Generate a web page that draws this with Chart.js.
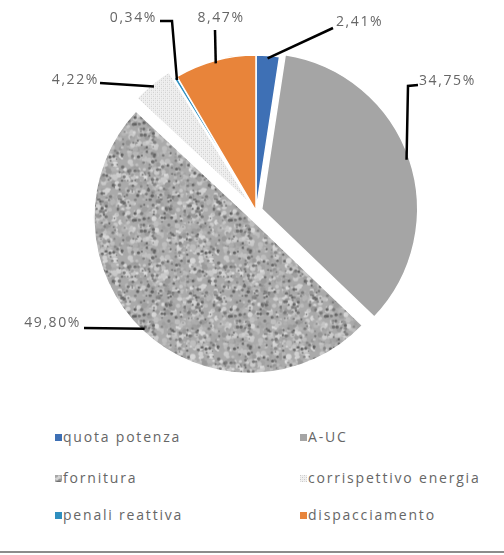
<!DOCTYPE html>
<html>
<head>
<meta charset="utf-8">
<script src="https://cdn.jsdelivr.net/npm/chart.js@4.4.1/dist/chart.umd.min.js"></script>
<style>
  html, body { margin: 0; padding: 0; background: #fff; }
  #wrap { position: relative; width: 504px; height: 555px; overflow: hidden; }
  #chartBox { position: absolute; left: 0; top: 0; width: 504px; height: 420px; }
  .legend-item {
    position: absolute; height: 16px; line-height: 16px; white-space: nowrap;
    font-family: "Open Sans", sans-serif; font-size: 14px; color: #666; letter-spacing: 1.8px;
  }
  .swatch { display: inline-block; width: 7px; height: 7px; margin-right: 1px; vertical-align: 1px; }
  #frame { position: absolute; left: 0; right: 0; top: 551px; height: 2px; background: #8c8c8c; }
</style>
</head>
<body>
<div id="wrap">
  <div id="chartBox"><canvas id="chart"></canvas></div>
  <div id="legend"></div>
  <div id="frame"></div>
</div>
<script>
const categories = ["quota potenza", "A-UC", "fornitura", "corrispettivo energia", "penali reattiva", "dispacciamento"];
const shares = [2.41, 34.75, 49.80, 4.22, 0.34, 8.47];

// how far each slice is pulled out of the pie (px)
const explode = [0, 6, 9, 8, 0, 0];

// label text position + leader line bends
const labelSpots = [
  { at: [336, 22], align: "left", path: [[333, 28]] },
  { at: [419, 81], align: "left", path: [[408, 86], [418, 85]] },
  { at: [81, 323], align: "right", path: [[84, 328]] },
  { at: [99, 80], align: "right", path: [[100, 83]] },
  { at: [157, 18], align: "right", path: [[172, 21], [160, 21]] },
  { at: [221, 18], align: "center", path: [[215, 30]] },
];

// deterministic texture helpers
function rng(seed) {
  let a = seed;
  return function () {
    a |= 0; a = a + 0x6D2B79F5 | 0;
    let t = Math.imul(a ^ a >>> 15, 1 | a);
    t = t + Math.imul(t ^ t >>> 7, 61 | t) ^ t;
    return ((t ^ t >>> 14) >>> 0) / 4294967296;
  };
}

function grainTile() {
  const c = document.createElement("canvas");
  c.width = c.height = 96;
  const g = c.getContext("2d");
  g.fillStyle = "#aaaaaa";
  g.fillRect(0, 0, 96, 96);
  const r = rng(7);
  for (let i = 0; i < 700; i++) {
    const v = Math.round(150 + r() * 70);
    g.fillStyle = `rgb(${v},${v},${v})`;
    g.beginPath();
    g.arc(r() * 96, r() * 96, 1.2 + r() * 1.8, 0, Math.PI * 2);
    g.fill();
  }
  for (let i = 0; i < 260; i++) {
    const v = Math.round(95 + r() * 40);
    g.fillStyle = `rgb(${v},${v},${v})`;
    g.beginPath();
    g.arc(r() * 96, r() * 96, 0.7 + r() * 1.1, 0, Math.PI * 2);
    g.fill();
  }
  return c;
}

function dotTile() {
  const c = document.createElement("canvas");
  c.width = c.height = 4;
  const g = c.getContext("2d");
  g.fillStyle = "#f1f1f1";
  g.fillRect(0, 0, 4, 4);
  g.fillStyle = "#c9c9c9";
  g.fillRect(0, 0, 1, 1);
  g.fillRect(2, 2, 1, 1);
  g.fillStyle = "#dedede";
  g.fillRect(2, 0, 1, 1);
  g.fillRect(0, 2, 1, 1);
  return c;
}

const canvas = document.getElementById("chart");
const ctx = canvas.getContext("2d");
const grain = grainTile();
const dots = dotTile();

const sliceColors = [
  "#3e70b5",
  "#a5a5a5",
  ctx.createPattern(grain, "repeat"),
  ctx.createPattern(dots, "repeat"),
  "#2f8fbf",
  "#e8843a",
];
const swatchCss = [
  "background:#3e70b5",
  "background:#a5a5a5",
  `background:url(${grain.toDataURL()})`,
  `background:url(${dots.toDataURL()})`,
  "background:#2f8fbf",
  "background:#e8843a",
];

const fmt = v => v.toFixed(2).replace(".", ",") + "%";

// draw the slices ourselves so they can be pulled out by a fixed distance
const explodedSlices = {
  id: "explodedSlices",
  beforeDatasetDraw(chart, args) {
    const c = chart.ctx;
    args.meta.data.forEach((arc, i) => {
      const mid = (arc.startAngle + arc.endAngle) / 2;
      c.save();
      c.translate(Math.cos(mid) * explode[i], Math.sin(mid) * explode[i]);
      arc.draw(c, chart.chartArea);
      c.restore();
    });
    return false;
  },
};

const leaderLabels = {
  id: "leaderLabels",
  afterDatasetsDraw(chart) {
    const c = chart.ctx;
    const arcs = chart.getDatasetMeta(0).data;
    c.save();
    c.strokeStyle = "#000";
    c.lineWidth = 2.5;
    c.font = "14px 'Open Sans', sans-serif";
    c.fillStyle = "#666";
    c.textBaseline = "middle";
    c.letterSpacing = "1.6px";
    arcs.forEach((arc, i) => {
      const spot = labelSpots[i];
      const mid = (arc.startAngle + arc.endAngle) / 2;
      const r = arc.outerRadius - 3 + explode[i];
      c.beginPath();
      c.moveTo(arc.x + Math.cos(mid) * r, arc.y + Math.sin(mid) * r);
      spot.path.forEach(p => c.lineTo(p[0], p[1]));
      c.stroke();
      c.textAlign = spot.align;
      c.fillText(fmt(shares[i]), spot.at[0], spot.at[1]);
    });
    c.restore();
  },
};

const chart = new Chart(canvas, {
  type: "pie",
  data: {
    labels: categories,
    datasets: [{
      data: shares,
      backgroundColor: sliceColors,
      borderColor: "#ffffff",
      borderWidth: 1.5,
      radius: 156,
    }],
  },
  options: {
    responsive: true,
    maintainAspectRatio: false,
    animation: false,
    layout: { padding: { left: 8, top: 2, right: 0, bottom: 0 } },
    plugins: {
      legend: { display: false },
      tooltip: { enabled: false },
    },
  },
  plugins: [explodedSlices, leaderLabels],
});

// two-column legend under the pie
const legendCols = [55, 300];
const legendRows = [437, 478, 515];
const legend = document.getElementById("legend");
categories.forEach((name, i) => {
  const el = document.createElement("div");
  el.className = "legend-item";
  el.style.left = legendCols[i % 2] + "px";
  el.style.top = (legendRows[Math.floor(i / 2)] - 8) + "px";
  el.innerHTML = `<span class="swatch" style="${swatchCss[i]}"></span>${name}`;
  legend.appendChild(el);
});
</script>
</body>
</html>
